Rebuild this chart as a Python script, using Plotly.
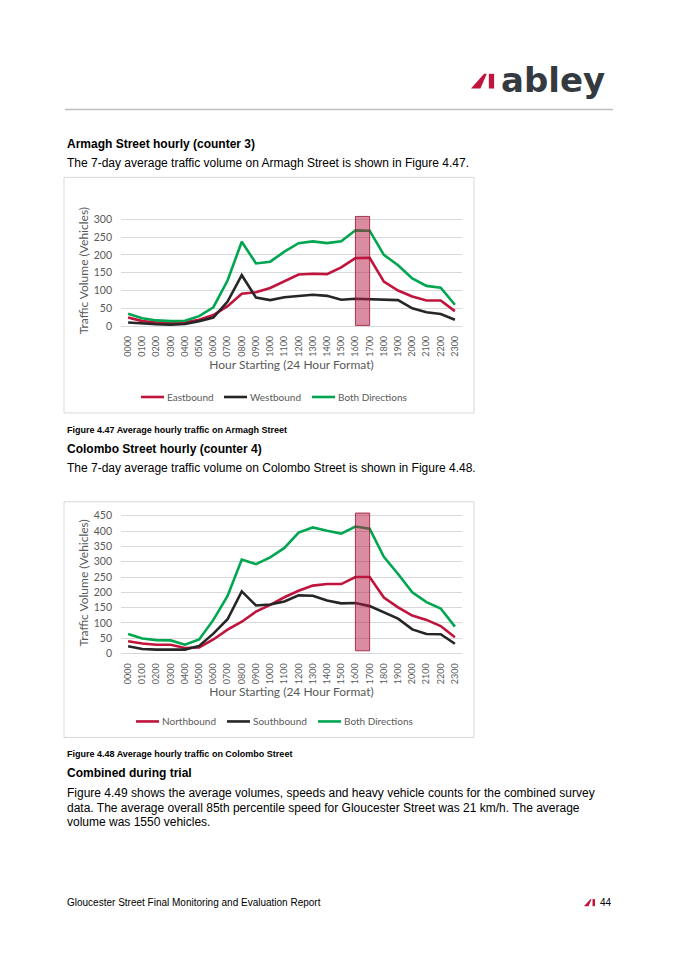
import plotly.graph_objects as go

# the page body has an 8px margin on every side; keep the figure inside the window
OFF = 8
W, H = 675 - 2 * OFF, 955 - 2 * OFF
STRETCH = 0.008  # slight vertical stretch so lower parts of the page line up

HOURS = ["0000", "0100", "0200", "0300", "0400", "0500", "0600", "0700",
         "0800", "0900", "1000", "1100", "1200", "1300", "1400", "1500",
         "1600", "1700", "1800", "1900", "2000", "2100", "2200", "2300"]

# Armagh Street (counter 3)
ARMAGH_NAMES = ["Eastbound", "Westbound", "Both Directions"]
ARMAGH_EAST = [24, 14, 10, 8, 11, 18, 31, 56, 91, 95, 107, 126, 145, 147, 146, 165,
               191, 192, 125, 100, 83, 72, 72, 42]
ARMAGH_WEST = [10, 7, 5, 4, 6, 14, 24, 69, 143, 80, 73, 81, 85, 88, 85, 74,
               77, 75, 75, 73, 50, 39, 34, 18]
ARMAGH_BOTH = [35, 22, 16, 14, 15, 28, 53, 128, 237, 176, 181, 209, 233, 238, 233, 238,
               269, 268, 200, 171, 134, 113, 108, 60]

# Colombo Street (counter 4)
COLOMBO_NAMES = ["Northbound", "Southbound", "Both Directions"]
COLOMBO_NORTH = [40, 33, 29, 29, 18, 20, 46, 78, 104, 137, 159, 184, 205, 222, 227, 227,
                 250, 250, 183, 151, 124, 110, 90, 53]
COLOMBO_SOUTH = [24, 15, 13, 12, 13, 25, 65, 112, 203, 157, 160, 170, 190, 189, 173, 164,
                 165, 155, 134, 114, 79, 64, 63, 32]
COLOMBO_BOTH = [64, 49, 44, 43, 29, 46, 110, 188, 307, 292, 314, 345, 395, 412, 401, 392,
                415, 408, 316, 260, 200, 168, 147, 88]

# highlighted peak hour window
HIGHLIGHT_HOURS = ("1600", "1700")
ARMAGH_HIGHLIGHT_Y = (2, 308)
COLOMBO_HIGHLIGHT_Y = (9, 459)

COLORS = ["#C0143C", "#262626", "#00A650"]
GREY = "#595959"
TICK_FONT = "Lato"
DOC_FONT = "Liberation Sans"


def fx(px):
    return (px - OFF) / W


def fy(py):
    py = py + (py - 180) * STRETCH
    return 1 - (py - OFF) / H


def txt(s, x, y, size, color="#000000", font=DOC_FONT, xanchor="left"):
    return dict(text=s, x=fx(x), y=fy(y), xref="paper", yref="paper",
                xanchor=xanchor, yanchor="middle", showarrow=False,
                font=dict(family=font, size=size, color=color))


fig = go.Figure()
shapes = []
annotations = []

charts = [
    dict(series=[ARMAGH_EAST, ARMAGH_WEST, ARMAGH_BOTH], names=ARMAGH_NAMES, ax="",
         box=(176, 412), y0px=325, ytop_px=218, ytop=300, ymax=312,
         hl=ARMAGH_HIGHLIGHT_Y, leg_y=396, leg_x=[141, 224, 312]),
    dict(series=[COLOMBO_NORTH, COLOMBO_SOUTH, COLOMBO_BOTH], names=COLOMBO_NAMES, ax="2",
         box=(501, 737), y0px=653, ytop_px=515, ytop=450, ymax=462,
         hl=COLOMBO_HIGHLIGHT_Y, leg_y=721, leg_x=[136, 227, 318]),
]

for c in charts:
    xa, ya = "x" + c["ax"], "y" + c["ax"]
    for vals, name, col in zip(c["series"], c["names"], COLORS):
        fig.add_trace(go.Scatter(x=HOURS, y=vals, name=name, mode="lines",
                                 line=dict(color=col, width=2.6),
                                 xaxis=xa, yaxis=ya, showlegend=False))

    # y domain so that the axis max lands above the top gridline
    scale = (c["y0px"] - c["ytop_px"]) / c["ytop"]
    top_px = c["y0px"] - c["ymax"] * scale
    common_x = dict(domain=[fx(121), fx(462)], type="category", range=[-0.5, 23.5],
                    tickangle=-90, tickfont=dict(family=TICK_FONT, size=9, color=GREY),
                    showgrid=False, showline=False, ticks="", ticklabelstandoff=7,
                    anchor=ya,
                    title=dict(text="Hour Starting (24 Hour Format)", standoff=4,
                               font=dict(family=TICK_FONT, size=12, color=GREY)))
    common_y = dict(domain=[fy(c["y0px"]), fy(top_px)], range=[0, c["ymax"]], dtick=50,
                    tickfont=dict(family=TICK_FONT, size=10.5, color=GREY),
                    gridcolor="#D9D9D9", gridwidth=1, zeroline=True,
                    zerolinecolor="#D9D9D9", zerolinewidth=1, showline=False,
                    ticks="", ticklabelstandoff=8, anchor=xa,
                    title=dict(text="Traffic Volume (Vehicles)", standoff=2,
                               font=dict(family=TICK_FONT, size=12, color=GREY)))
    fig.update_layout({"xaxis" + c["ax"]: common_x, "yaxis" + c["ax"]: common_y})

    # chart frame
    shapes.append(dict(type="rect", xref="paper", yref="paper",
                       x0=fx(64), x1=fx(474), y0=fy(c["box"][1]), y1=fy(c["box"][0]),
                       line=dict(color="#D9D9D9", width=1), fillcolor="rgba(0,0,0,0)",
                       layer="below"))

    # highlighted peak hour
    shapes.append(dict(type="rect", xref=xa, yref=ya,
                       x0=HOURS.index(HIGHLIGHT_HOURS[0]), x1=HOURS.index(HIGHLIGHT_HOURS[1]),
                       y0=c["hl"][0], y1=c["hl"][1],
                       fillcolor="rgba(185,25,65,0.5)",
                       line=dict(color="rgba(150,20,50,0.8)", width=1), layer="above"))

    # legend drawn by hand so the short Excel-style samples fit
    for lx, name, col in zip(c["leg_x"], c["names"], COLORS):
        shapes.append(dict(type="line", xref="paper", yref="paper",
                           x0=fx(lx), x1=fx(lx + 23), y0=fy(c["leg_y"]), y1=fy(c["leg_y"]),
                           line=dict(color=col, width=2.6)))
        annotations.append(txt(name, lx + 24, c["leg_y"], 10, GREY, TICK_FONT))

# document text
annotations += [
    txt("<b>Armagh Street hourly (counter 3)</b>", 65, 143, 12),
    txt("The 7-day average traffic volume on Armagh Street is shown in Figure 4.47.", 65, 162, 12),
    txt("<b>Figure 4.47 Average hourly traffic on Armagh Street</b>", 65, 429, 9),
    txt("<b>Colombo Street hourly (counter 4)</b>", 65, 448, 12),
    txt("The 7-day average traffic volume on Colombo Street is shown in Figure 4.48.", 65, 467, 12),
    txt("<b>Figure 4.48 Average hourly traffic on Colombo Street</b>", 65, 754, 9),
    txt("<b>Combined during trial</b>", 65, 773, 12),
    txt("Figure 4.49 shows the average volumes, speeds and heavy vehicle counts for the combined survey",
        65, 793, 12),
    txt("data. The average overall 85th percentile speed for Gloucester Street was 21 km/h. The average",
        65, 807.5, 12),
    txt("volume was 1550 vehicles.", 65, 821.5, 12),
    txt("Gloucester Street Final Monitoring and Evaluation Report", 65, 902, 10),
    txt("44", 598, 902, 10),
    txt("<b>abley</b>", 499, 78, 34, "#343A40", "DejaVu Sans"),
]


def mark(x, y, s, color="#C0143C"):
    # slanted wedge + bar of the logo mark; (x, y) is the bottom-left corner
    def p(dx, dy):
        return f"{fx(x + dx * s):.5f},{fy(y - dy * s):.5f}"
    wedge = f"M {p(0, 0)} L {p(9, 0)} L {p(15, 14)} L {p(12.5, 14)} Z"
    bar = f"M {p(17, 0)} L {p(22, 0)} L {p(22, 14)} L {p(17, 14)} Z"
    return [dict(type="path", xref="paper", yref="paper", path=wedge,
                 fillcolor=color, line=dict(width=0)),
            dict(type="path", xref="paper", yref="paper", path=bar,
                 fillcolor=color, line=dict(width=0))]


shapes += mark(471, 87, 1.05)
shapes += mark(584, 906, 0.5)
shapes.append(dict(type="line", xref="paper", yref="paper", x0=fx(65), x1=fx(613),
                   y0=fy(108), y1=fy(108), line=dict(color="#BFBFBF", width=1.5)))

fig.update_layout(width=W, height=H, margin=dict(l=0, r=0, t=0, b=0),
                  paper_bgcolor="white", plot_bgcolor="white",
                  shapes=shapes, annotations=annotations, showlegend=False)

fig.write_html("out.html")
